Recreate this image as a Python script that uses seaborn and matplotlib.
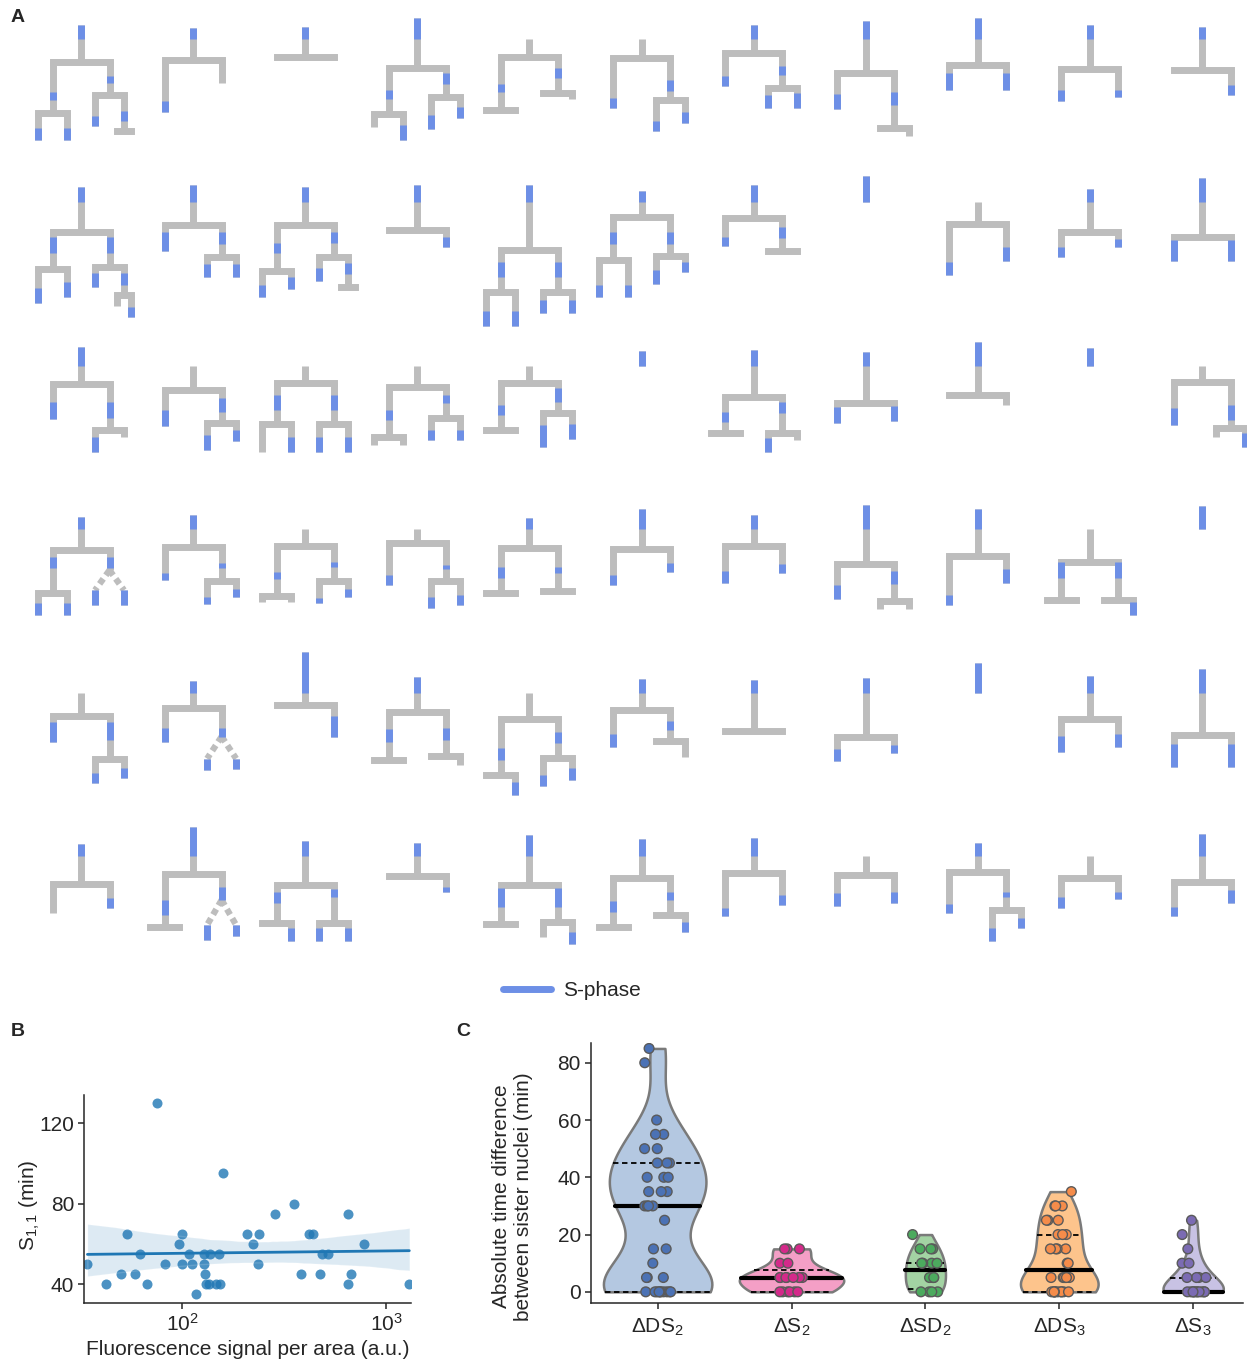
import numpy as np
import pandas as pd
import matplotlib
matplotlib.use("Agg")
import matplotlib.pyplot as plt
from matplotlib.lines import Line2D
from matplotlib.ticker import NullLocator
import seaborn as sns


def cell(dur, s=None, kids=None, gap=0):
    # one nucleus: lifetime, S-phase window (relative to birth), daughters
    return {"dur": dur, "s": s, "kids": kids, "gap": gap}


T = "T"  # division seen, daughters not followed

# ---- panel A: lineage trees, one list per row (times in min-like units) ----
ROW1 = [
    cell(37, (0, 14), [cell(51, (30, 38), [cell(27, (15, 27)), cell(27, (15, 27))]),
                       cell(33, (14, 21), [cell(31, (21, 31)), cell(36, (16, 26), T)])]),
    cell(32, (0, 11), [cell(52, (41, 52)), cell(23)]),
    cell(30, (0, 12), T),
    cell(50, (0, 21), [cell(46, (22, 31), [cell(13), cell(26, (11, 26))]),
                       cell(29, (5, 16), [cell(32, (18, 32)), cell(21, (10, 21))])]),
    cell(18, None, [cell(53, (27, 35), T), cell(36, (11, 21), [cell(0), cell(6)])]),
    cell(19, None, [cell(50, (40, 50)),
                    cell(42, (22, 33), [cell(31, (21, 31)), cell(23, (12, 23))])]),
    cell(28, (0, 14), [cell(33, (23, 33)),
                       cell(35, (13, 22), [cell(20, (7, 20)), cell(20, (5, 20))])]),
    cell(52, (0, 18), [cell(36, (21, 36)), cell(55, (19, 32), [cell(0), cell(8)])]),
    cell(47, (0, 21), [cell(25, (8, 25)), cell(25, (8, 25))]),
    cell(44, (0, 14), [cell(32, (21, 32)), cell(28, (21, 28))]),
    cell(43, (0, 12), [cell(0), cell(25, (15, 25))]),
]
ROW2 = [
    cell(45, (0, 15), [cell(37, (5, 21), [cell(34, (19, 34)), cell(28, (13, 28))]),
                       cell(35, (5, 21), [cell(20, (6, 20)),
                                          cell(28, (6, 18), [cell(11), cell(22, (12, 22))])])]),
    cell(40, (0, 17), [cell(26, (7, 26)),
                       cell(32, (7, 19), [cell(20, (7, 20)), cell(20, (7, 20))])]),
    cell(38, (0, 15), [cell(46, (18, 28), [cell(26, (14, 26)), cell(18, (6, 18))]),
                       cell(32, (7, 18), [cell(24, (11, 24)), cell(30, (6, 17), T)])]),
    cell(45, (0, 17), [cell(0), cell(17, (7, 17))]),
    cell(65, (0, 17), [cell(42, (12, 27), [cell(34, (19, 34)), cell(34, (19, 34))]),
                       cell(42, (12, 27), [cell(21, (8, 21)), cell(21, (8, 21))])]),
    cell(26, (0, 11), [cell(43, (15, 27), [cell(37, (25, 37)), cell(37, (25, 37))]),
                       cell(39, (15, 27), [cell(28, (14, 28)), cell(16, (6, 16))])]),
    cell(33, (0, 17), [cell(28, (19, 28)), cell(33, (9, 20), T)]),
    cell(26, (0, 26)),
    cell(22, None, [cell(51, (38, 51)), cell(37, (23, 37))]),
    cell(43, (0, 13), [cell(25, (15, 25)), cell(15, (7, 15))]),
    cell(59, (0, 24), [cell(24, (3, 24)), cell(24, (3, 24))]),
]
ROW3 = [
    cell(37, (0, 19), [cell(35, (18, 35)),
                       cell(46, (18, 34), [cell(22, (7, 22)), cell(7)])]),
    cell(24, None, [cell(36, (20, 36)),
                    cell(33, (8, 22), [cell(27, (12, 27)), cell(18, (7, 18))])]),
    cell(17, None, [cell(41, (12, 27), [cell(28), cell(28, (13, 28))]),
                    cell(41, (12, 27), [cell(28, (13, 28)), cell(28, (13, 28))])]),
    cell(21, None, [cell(50, (23, 33), [cell(8), cell(8)]),
                    cell(31, (8, 16), [cell(22, (12, 22)), cell(22, (12, 22))])]),
    cell(17, None, [cell(47, (22, 32), T),
                    cell(30, (5, 19), [cell(34, (12, 34)), cell(26, (11, 26))])]),
    cell(15, (0, 15)),
    cell(47, (0, 16), [cell(36, (15, 25), T),
                       cell(36, (5, 16), [cell(19, (5, 19)), cell(7)])]),
    cell(51, (0, 14), [cell(20, (4, 20)), cell(18, (3, 18))]),
    cell(53, (0, 24), [cell(0), cell(10)]),
    cell(18, (0, 18)),
    cell(16, None, [cell(43, (26, 43)),
                    cell(46, (23, 38), [cell(9), cell(19, (5, 19))])]),
]
ROW4 = [
    cell(33, (0, 12), [cell(43, (7, 18), [cell(22, (10, 22)), cell(22, (10, 22))]),
                       cell(20, (7, 18), [cell(15, (0, 15)), cell(15, (0, 15))], gap=20)]),
    cell(32, (0, 14), [cell(33, (26, 33)),
                       cell(34, (16, 21), [cell(23, (16, 23)), cell(16, (8, 16))])]),
    cell(17, None, [cell(50, (26, 33), [cell(6), cell(6)]),
                    cell(35, (16, 21), [cell(22, (17, 22)), cell(16, (8, 16))])]),
    cell(14, None, [cell(42, (32, 42)),
                    cell(38, (22, 26), [cell(27, (16, 27)), cell(24, (14, 24))])]),
    cell(30, (0, 11), [cell(45, (19, 30), T), cell(43, (19, 25), T)]),
    cell(40, (0, 20), [cell(36, (26, 36)), cell(23, (14, 23))]),
    cell(31, (0, 14), [cell(37, (25, 37)), cell(27, (18, 27))]),
    cell(59, (0, 24), [cell(35, (21, 35)), cell(37, (7, 20), [cell(8), cell(8)])]),
    cell(47, (0, 20), [cell(49, (39, 49)), cell(27, (13, 27))]),
    cell(33, None, [cell(38, (0, 16), T), cell(38, (0, 16), [cell(0), cell(15, (2, 15))])]),
    cell(23, (0, 23)),
]
ROW5 = [
    cell(23, None, [cell(26, (6, 26)),
                    cell(43, (6, 24), [cell(24, (14, 24)), cell(19, (9, 19))])]),
    cell(27, (0, 12), [cell(34, (20, 34)),
                       cell(29, (20, 29), [cell(11, (0, 11)), cell(10, (0, 10))], gap=22)]),
    cell(53, (0, 41), [cell(0), cell(32, (11, 32))]),
    cell(35, (0, 16), [cell(48, (17, 30), T), cell(44, (16, 28), [cell(0), cell(9)])]),
    cell(26, None, [cell(56, (29, 41), [cell(0), cell(20, (7, 20))]),
                    cell(39, (13, 24), [cell(28, (17, 28)), cell(22, (10, 22))])]),
    cell(31, (0, 14), [cell(37, (24, 37)), cell(31, (11, 20), [cell(0), cell(16)])]),
    cell(51, (0, 13), T),
    cell(59, (0, 15), [cell(24, (12, 24)), cell(16, (8, 16))]),
    cell(30, (0, 30)),
    cell(43, (0, 17), [cell(33, (17, 33)), cell(28, (15, 28))]),
    cell(66, (0, 24), [cell(32, (9, 32)), cell(32, (9, 32))]),
]
ROW6 = [
    cell(40, (0, 12), [cell(29), cell(24, (14, 24))]),
    cell(47, (0, 29), [cell(53, (26, 41), T),
                       cell(26, (13, 26), [cell(15, (0, 15)), cell(11, (0, 11))], gap=25)]),
    cell(44, (0, 15), [cell(38, (7, 18), [cell(0), cell(18, (5, 18))]),
                       cell(38, (4, 12), [cell(18, (5, 18)), cell(18, (5, 18))])]),
    cell(33, (0, 13), [cell(0), cell(16, (11, 16))]),
    cell(50, (0, 21), [cell(39, (3, 22), T),
                       cell(37, (3, 22), [cell(15), cell(22, (10, 22))])]),
    cell(39, (0, 17), [cell(49, (23, 34), T),
                       cell(37, (14, 22), [cell(0), cell(17, (7, 17))])]),
    cell(35, (0, 18), [cell(43, (35, 43)), cell(32, (22, 32))]),
    cell(19, None, [cell(31, (18, 31)), cell(28, (17, 28))]),
    cell(29, (0, 13), [cell(41, (32, 41)),
                       cell(38, (20, 25), [cell(31, (18, 31)), cell(18, (8, 18))])]),
    cell(22, None, [cell(30, (19, 30)), cell(21, (14, 21))]),
    cell(48, (0, 22), [cell(34, (25, 34)), cell(21, (8, 21))]),
]
ROWS = [ROW1, ROW2, ROW3, ROW4, ROW5, ROW6]

# ---- panel B ----
fluor = [34.3, 42.2, 49.9, 53.8, 58.7, 62.1, 66.9, 75.4, 82.2, 96.3, 100, 100,
         107.8, 111.9, 117.1, 127.6, 128.6, 130, 131.5, 135, 136.6, 147.3, 152.4,
         154, 158, 208, 222, 235, 237, 286, 352, 384, 417, 438, 475, 484, 518,
         649, 654, 671, 780, 1300]
s11 = [50, 40, 45, 65, 45, 55, 40, 130, 50, 60, 65, 50,
       55, 50, 35, 55, 50, 45, 40, 40, 55, 40, 55,
       40, 95, 65, 60, 50, 65, 75, 80, 45, 65, 65, 45, 55, 55,
       40, 75, 45, 60, 40]

# ---- panel C ----
groups = ["ΔDS$_2$", "ΔS$_2$", "ΔSD$_2$", "ΔDS$_3$", "ΔS$_3$"]
d_ds2 = [85, 80, 60, 55, 55, 50, 50, 45, 45, 45, 40, 40, 40, 35, 35, 35,
         30, 30, 30, 30, 25, 15, 15, 10, 5, 5, 5,
         0, 0, 0, 0, 0, 0, 0, 0, 0, 0]
d_s2 = [15, 15, 15, 10, 10, 5, 5, 5, 5, 5, 5, 5, 5, 0, 0, 0, 0, 0, 0]
d_sd2 = [20, 15, 15, 15, 10, 10, 10, 10, 5, 5, 5, 5, 0, 0, 0, 0]
d_ds3 = [35, 30, 30, 30, 25, 25, 25, 20, 20, 20, 15, 15, 15, 15, 10, 10,
         5, 5, 5, 5, 5, 5, 0, 0, 0, 0, 0, 0, 0, 0, 0, 0]
d_s3 = [25, 20, 15, 10, 10, 5, 5, 5, 5, 0, 0, 0, 0, 0, 0, 0, 0, 0, 0, 0]
q_low = [0, 0, 1, 0, 0]
q_med = [30, 5, 7.5, 7.5, 0]
q_high = [45, 7.5, 10, 20, 5]
violin_w = [0.81, 0.78, 0.30, 0.58, 0.45]
bw_adj = [0.8, 1.0, 1.0, 1.0, 1.0]
fill_colors = ["#b4c8e1", "#f49fc6", "#a3d3a3", "#fdc48c", "#c8c2e4"]
dot_colors = ["#4b72b5", "#d42a8a", "#4caa5e", "#f58c4a", "#7b6bb3"]

GRAY = "#bdbdbd"
BLUE = "#6d8fe6"
LW = 5.0
HALF_W = [28.5, 14.5, 7.2, 3.6]

sns.set_theme(style="ticks")
plt.rcParams["font.family"] = ["Liberation Sans", "DejaVu Sans"]
plt.rcParams["mathtext.fontset"] = "custom"
plt.rcParams["mathtext.rm"] = "Liberation Sans"
plt.rcParams["mathtext.it"] = "Liberation Sans:italic"
plt.rcParams["axes.linewidth"] = 1.1
plt.rcParams["xtick.major.width"] = 1.1
plt.rcParams["ytick.major.width"] = 1.1
plt.rcParams["xtick.major.size"] = 4
plt.rcParams["ytick.major.size"] = 4
FS = 15

fig = plt.figure(figsize=(12.47, 13.65), dpi=100)


def draw_cell(ax, c, x, t0, level):
    t1 = t0 + c["dur"]
    if c["dur"] > 0:
        ax.plot([x, x], [t0, t1], color=GRAY, lw=LW, solid_capstyle="butt", zorder=1)
    if c["s"] is not None:
        ax.plot([x, x], [t0 + c["s"][0], t0 + c["s"][1]], color=BLUE, lw=LW,
                solid_capstyle="butt", zorder=3)
    kids = c["kids"]
    if kids is None:
        return
    if kids == T:
        kids = [cell(0), cell(0)]
    hw = HALF_W[level]
    if c["gap"]:
        for k, dx in zip(kids, (-hw, hw)):
            ax.plot([x, x + dx], [t1, t1 + c["gap"]], color=GRAY, lw=LW * 0.9,
                    ls=(0, (1.0, 0.7)), dash_capstyle="butt", zorder=1)
            draw_cell(ax, k, x + dx, t1 + c["gap"], level + 1)
    else:
        ax.plot([x - hw, x + hw], [t1, t1], color=GRAY, lw=LW,
                solid_capstyle="projecting", zorder=2)
        for k, dx in zip(kids, (-hw, hw)):
            draw_cell(ax, k, x + dx, t1, level + 1)


# Panel A
ax_a = fig.add_axes([0, 1 - 1010 / 1365, 1, 1010 / 1365])
ax_a.set_xlim(0, 1247)
ax_a.set_ylim(1010, 0)
ax_a.axis("off")
for r, row in enumerate(ROWS):
    ref = 39 + 163.4 * r          # rows aligned on end of first S-phase
    for ci, root in enumerate(row):
        x = 81 + 112.1 * ci
        birth = ref - root["s"][1] if root["s"] is not None else ref
        draw_cell(ax_a, root, x, birth, 0)

fig.legend(handles=[Line2D([], [], color=BLUE, lw=LW)], labels=["S-phase"],
           loc="center", bbox_to_anchor=(572 / 1247, 1 - 991 / 1365),
           frameon=False, fontsize=FS, handlelength=2.3, handletextpad=0.6)

# Panel B
ax_b = fig.add_axes([84 / 1247, 1 - 1303 / 1365, 327 / 1247, 208 / 1365])
sns.regplot(x=np.array(fluor), y=np.array(s11), logx=True, ax=ax_b, color="#1f77b4",
            scatter_kws={"s": 52, "linewidths": 0}, line_kws={"lw": 2}, seed=3)
ax_b.set_xscale("log")
ax_b.set_xlim(33, 1325)
ax_b.set_ylim(30.6, 134)
ax_b.set_yticks([40, 80, 120])
ax_b.xaxis.set_minor_locator(NullLocator())
ax_b.set_xlabel("Fluorescence signal per area (a.u.)", fontsize=FS, labelpad=4)
ax_b.set_ylabel("S$_{1,1}$ (min)", fontsize=FS)
ax_b.yaxis.set_label_coords(-0.128, 0.47)
ax_b.tick_params(labelsize=FS, pad=3)
sns.despine(ax=ax_b)

# Panel C
values = [d_ds2, d_s2, d_sd2, d_ds3, d_s3]
df = pd.DataFrame({
    "group": np.concatenate([[g] * len(v) for g, v in zip(groups, values)]),
    "value": np.concatenate(values),
})
ax_c = fig.add_axes([590.7 / 1247, 1 - 1303 / 1365, 652 / 1247, 260 / 1365])
for i, g in enumerate(groups):
    sub = df[df["group"] == g]
    sns.violinplot(data=sub, x="group", y="value", order=groups,
                   color=fill_colors[i], saturation=1, inner=None, cut=0,
                   density_norm="width", width=violin_w[i], bw_adjust=bw_adj[i],
                   linewidth=1.8, linecolor="#7a7a7a", ax=ax_c)
    verts = ax_c.collections[-1].get_paths()[0].vertices
    right = verts[verts[:, 0] > i + 1e-6]
    order = np.argsort(right[:, 1])
    ys, xs = right[order, 1], right[order, 0]
    for val, style, lw in [(q_low[i], "--", 1.3), (q_high[i], "--", 1.3),
                           (q_med[i], "-", 3)]:
        hw = np.interp(val, ys, xs) - i
        if style == "--":
            ax_c.plot([i - hw, i + hw], [val, val], color="black", lw=lw,
                      ls=(0, (3, 2)), zorder=3)
        else:
            ax_c.plot([i - hw, i + hw], [val, val], color="black", lw=lw, zorder=3)

np.random.seed(11)
sns.stripplot(data=df, x="group", y="value", hue="group", order=groups,
              hue_order=groups, palette=dot_colors, jitter=0.1, size=7,
              edgecolor="#5a5a5a", linewidth=1, legend=False, ax=ax_c, zorder=4)
ax_c.set_xlim(-0.5, 4.37)
ax_c.set_ylim(-3.9, 86.9)
ax_c.set_yticks([0, 20, 40, 60, 80])
ax_c.set_xlabel("")
ax_c.set_ylabel("Absolute time difference\nbetween sister nuclei (min)", fontsize=FS)
ax_c.yaxis.set_label_coords(-0.088, 0.41)
ax_c.tick_params(labelsize=FS, pad=3)
ax_c.tick_params(axis="x", pad=6)
sns.despine(ax=ax_c)

for lab, x, y in [("A", 18, 17), ("B", 18, 1032), ("C", 463, 1032)]:
    fig.text(x / 1247, 1 - y / 1365, lab, fontsize=14, fontweight="bold",
             ha="center", va="center")

fig.savefig("out.png", dpi=100)
